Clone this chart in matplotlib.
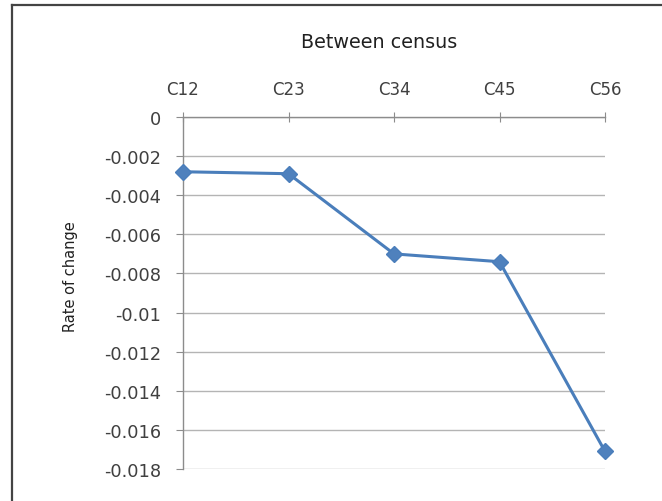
import matplotlib
matplotlib.use("Agg")
import matplotlib.pyplot as plt
from matplotlib.lines import Line2D

plt.rcParams["font.family"] = ["DejaVu Sans"]

# Census intervals and rate of change between consecutive censuses
categories = ["C12", "C23", "C34", "C45", "C56"]
rate_of_change = [-0.0028, -0.0029, -0.0070, -0.0074, -0.0171]

y_ticks = [0, -0.002, -0.004, -0.006, -0.008, -0.010, -0.012, -0.014, -0.016, -0.018]
y_tick_labels = ["0", "-0.002", "-0.004", "-0.006", "-0.008", "-0.01",
                 "-0.012", "-0.014", "-0.016", "-0.018"]

W, H = 662, 502
fig = plt.figure(figsize=(W / 100, H / 100), dpi=100)
fig.patch.set_facecolor("white")

left, right, top, bottom = 183, 605, 118, 470
ax = fig.add_axes([left / W, 1 - bottom / H, (right - left) / W, (bottom - top) / H])

x = list(range(len(categories)))
ax.plot(x, rate_of_change, color="#4A7EBB", lw=2.2, marker="D", ms=8.5,
        markerfacecolor="#4F81BD", markeredgecolor="#4A7EBB", zorder=5, clip_on=False)

ax.set_xlim(0, len(categories) - 1)
ax.set_ylim(-0.018, 0)

ax.xaxis.tick_top()
ax.set_xticks(x)
ax.set_xticklabels(categories, fontsize=12, color="#404040")
ax.set_yticks(y_ticks)
ax.set_yticklabels(y_tick_labels, fontsize=12.8, color="#404040")

axis_gray = "#8c8c8c"
for side in ("right", "bottom"):
    ax.spines[side].set_visible(False)
for side in ("top", "left"):
    ax.spines[side].set_color(axis_gray)
    ax.spines[side].set_linewidth(1.0)

ax.tick_params(axis="x", direction="inout", length=7, width=0.8, color=axis_gray, pad=10.5)
ax.tick_params(axis="y", direction="out", length=5, width=0.8, color=axis_gray, pad=10.5)

ax.yaxis.grid(True, color="#b4b4b4", lw=1.0)
ax.set_axisbelow(True)

ax.set_ylabel("Rate of change", fontsize=10.5, color="#202020")
ax.yaxis.set_label_coords(-(left - 78) / (right - left), 1 - (277 - top) / (bottom - top))

fig.text(379 / W, 1 - 42 / H, "Between census", fontsize=13.8, color="#202020",
         ha="center", va="center")

# Chart frame edges
frame_color = "#444444"
fig.add_artist(Line2D([12 / W, 12 / W], [1 - 6 / H, 0], transform=fig.transFigure,
                      color=frame_color, lw=1.6))
fig.add_artist(Line2D([12 / W, 1], [1 - 6 / H, 1 - 6 / H], transform=fig.transFigure,
                      color=frame_color, lw=1.6))

fig.savefig("out.png", dpi=100, facecolor="white")
